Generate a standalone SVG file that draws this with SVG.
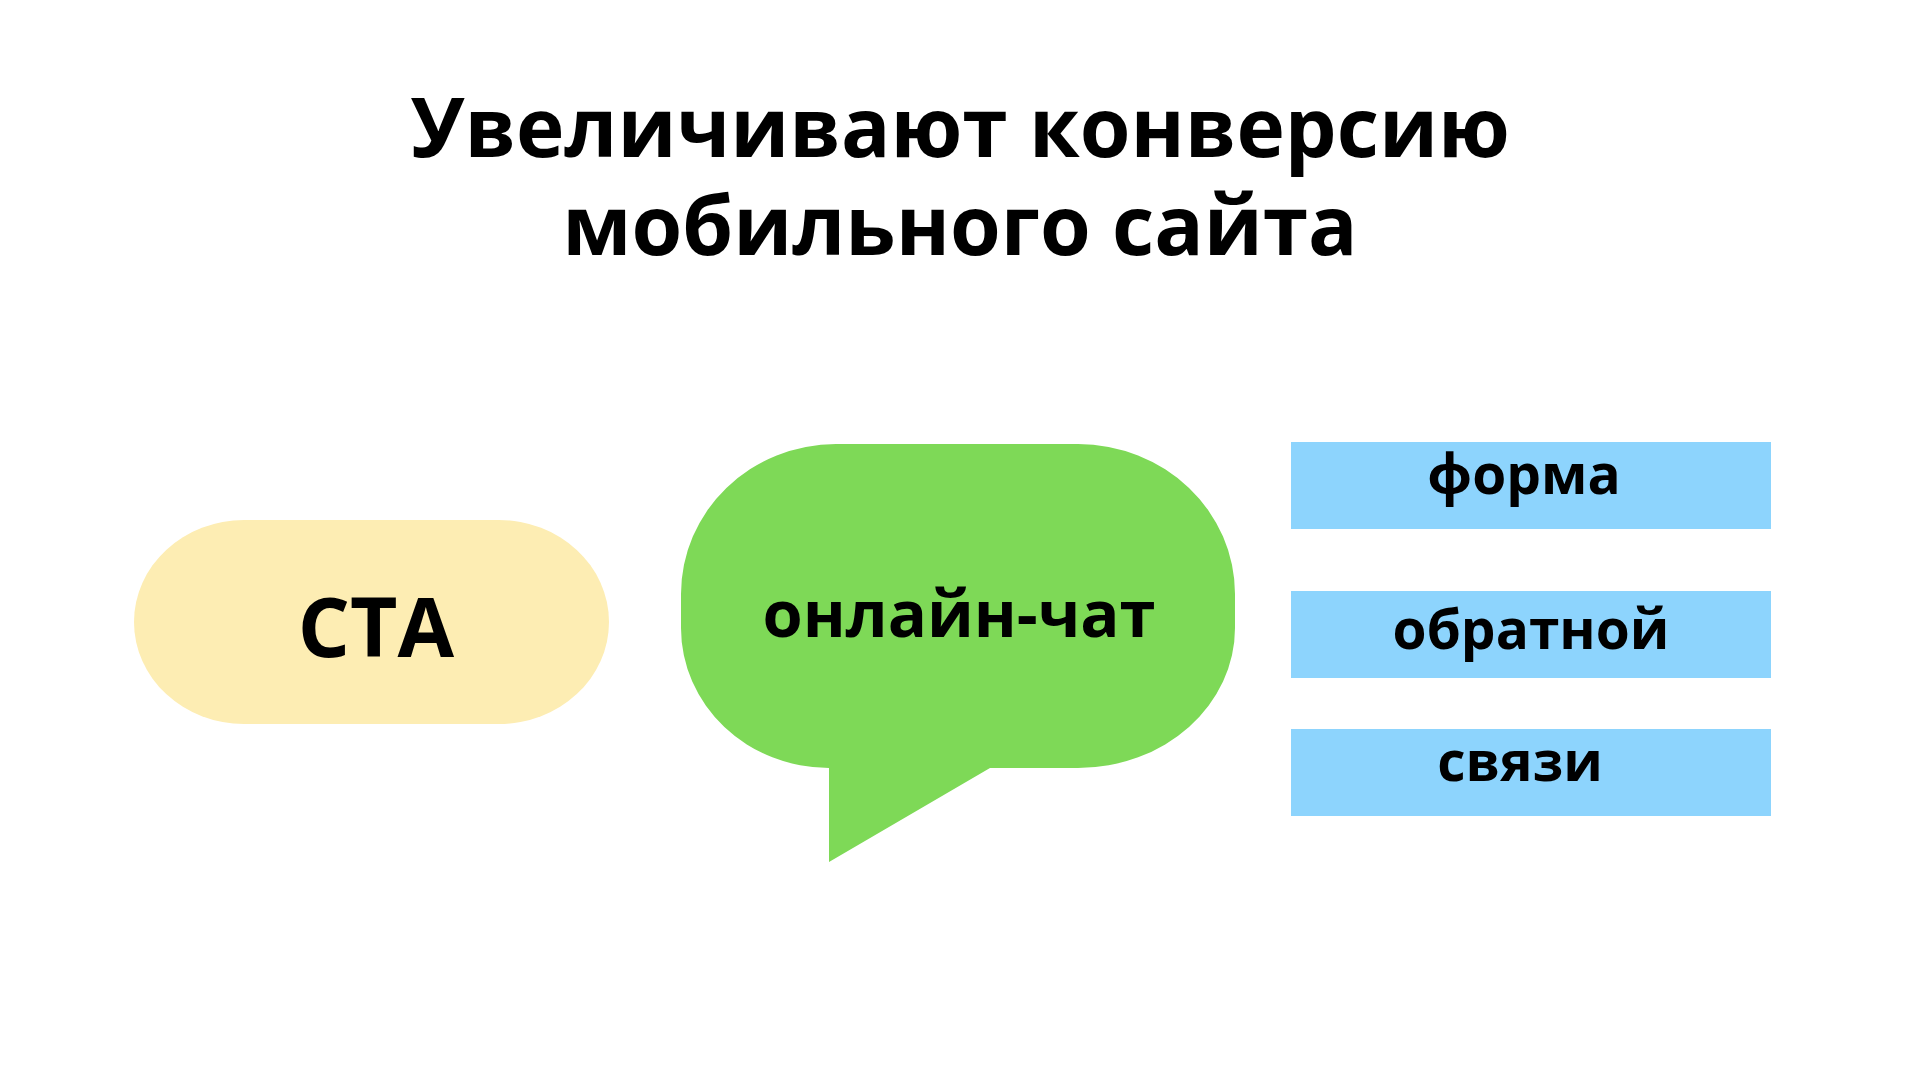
<svg xmlns="http://www.w3.org/2000/svg" width="1920" height="1080" viewBox="0 0 1920 1080">
<style>
text{font-family:"Open Sans","Noto Sans","DejaVu Sans",sans-serif;font-weight:700;fill:#000;text-anchor:middle}
.title{font-size:82px}
.chat{font-size:65px}
.blbl{font-size:55px}
.box{fill:#8DD4FD}
</style>
<rect width="1920" height="1080" fill="#fff"/>
<g id="title">
<text class="title" x="960" y="157">Увеличивают конверсию</text>
<text class="title" x="960" y="255">мобильного сайта</text>
</g>
<g id="cta">
<rect x="134" y="520" width="475" height="204" rx="110" ry="102" fill="#FDEDB3"/>
<text x="376" y="657" style="font-size:82px">CTA</text>
</g>
<g id="chat">
<path d="M836 444H1078A157 150 0 0 1 1235 594V628A157 140 0 0 1 1078 768H990L829 862V768A148 140 0 0 1 681 628V594A155 150 0 0 1 836 444Z" fill="#7ED957"/>
<text class="chat" x="959" y="637">онлайн-чат</text>
</g>
<g id="form">
<rect class="box" x="1291" y="442" width="480" height="87"/>
<text class="blbl" x="1524" y="494">форма</text>
</g>
<g id="feedback">
<rect class="box" x="1291" y="591" width="480" height="87"/>
<text class="blbl" x="1531" y="649">обратной</text>
</g>
<g id="link">
<rect class="box" x="1291" y="729" width="480" height="87"/>
<text class="blbl" x="1520" y="781">связи</text>
</g>
<g id="connectors"/>
</svg>
